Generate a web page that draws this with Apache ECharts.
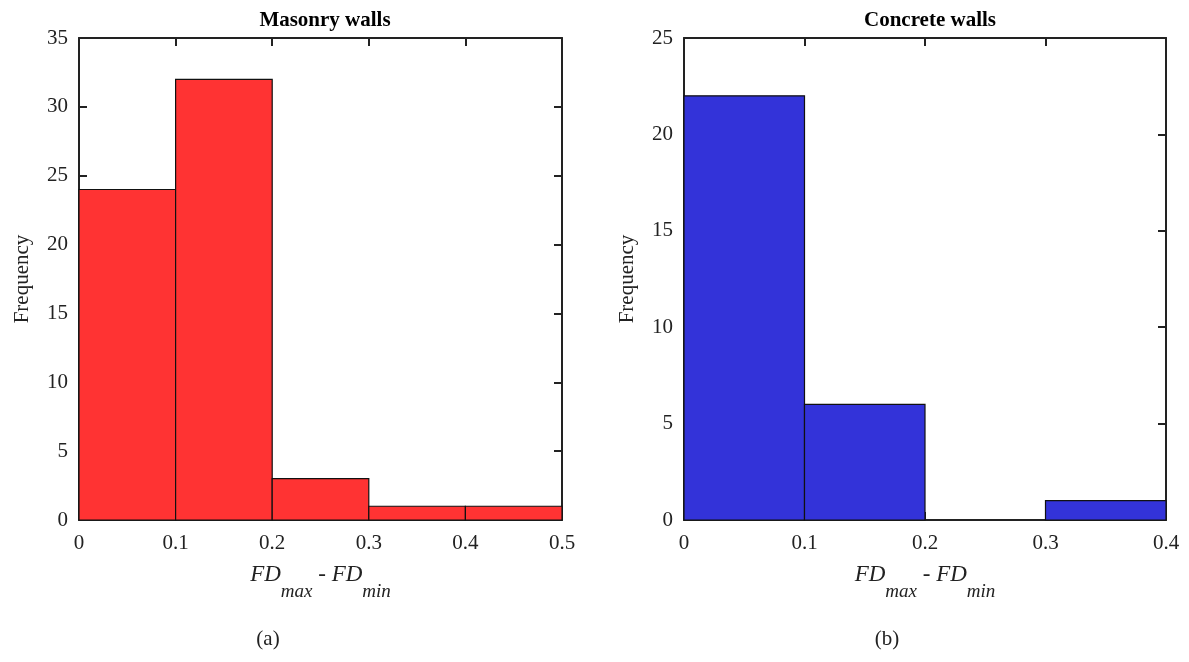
<!DOCTYPE html>
<html>
<head>
<meta charset="utf-8">
<script src="https://cdn.jsdelivr.net/npm/echarts@6/dist/echarts.min.js"></script>
<style>
  html, body { margin: 0; padding: 0; background: #fff; }
  #chart { width: 1189px; height: 662px; }
</style>
</head>
<body>
<div id="chart"></div>
<script>
// Histogram bin edges and counts for each wall type
const masonryBinEdges = [0, 0.1, 0.2, 0.3, 0.4, 0.5];
const masonryCounts = [24, 32, 3, 1, 1];
const concreteBinEdges = [0, 0.1, 0.2, 0.3, 0.4];
const concreteCounts = [22, 6, 0, 1];

const panelTitles = ['Masonry walls', 'Concrete walls'];
const panelTags = ['(a)', '(b)'];
const yAxisName = 'Frequency';

const FONT = '"Liberation Serif", "DejaVu Serif", serif';
const INK = '#222';

function binData(edges, counts) {
  return counts.map((c, i) => [edges[i], edges[i + 1], c]);
}

function renderBin(params, api) {
  const x0 = api.value(0), x1 = api.value(1), c = api.value(2);
  if (c <= 0) return null;
  const p0 = api.coord([x0, c]);
  const p1 = api.coord([x1, 0]);
  return {
    type: 'rect',
    shape: { x: p0[0], y: p0[1], width: p1[0] - p0[0], height: p1[1] - p0[1] },
    style: { fill: api.visual('color'), stroke: '#111', lineWidth: 1.2 }
  };
}

const xNameRich = {
  it: { fontFamily: FONT, fontStyle: 'italic', fontSize: 23, color: INK, lineHeight: 38, verticalAlign: 'top' },
  sub: { fontFamily: FONT, fontStyle: 'italic', fontSize: 19, color: INK, lineHeight: 38, verticalAlign: 'bottom' }
};
const xName = '{it|FD}{sub|max}{it| - FD}{sub|min}';

const grids = [
  { left: 79, right: 627, top: 38, bottom: 142 },
  { left: 684, right: 23, top: 38, bottom: 142 }
];
const xMax = [0.5, 0.4];
const yMax = [35, 25];

const xAxes = [], yAxes = [];
[0, 1].forEach(g => {
  const lineStyle = { color: INK, width: 2 };
  const tick = { show: true, inside: true, length: 8, lineStyle: { color: INK, width: 2 } };
  // bottom axis with labels
  xAxes.push({
    type: 'value', gridIndex: g, min: 0, max: xMax[g], interval: 0.1,
    position: 'bottom',
    axisLine: { show: true, onZero: false, lineStyle },
    axisTick: tick,
    axisLabel: { fontFamily: FONT, fontSize: 21, color: INK, margin: 13,
      formatter: v => (v === 0 ? '0' : String(+v.toFixed(1))) },
    splitLine: { show: false },
    name: xName, nameLocation: 'middle', nameGap: 43,
    nameTextStyle: { rich: xNameRich }
  });
  // top frame edge
  xAxes.push({
    type: 'value', gridIndex: g, min: 0, max: xMax[g], interval: 0.1,
    position: 'top',
    axisLine: { show: true, onZero: false, lineStyle },
    axisTick: tick,
    axisLabel: { show: false }, splitLine: { show: false }
  });
  yAxes.push({
    type: 'value', gridIndex: g, min: 0, max: yMax[g], interval: 5,
    position: 'left',
    axisLine: { show: true, onZero: false, lineStyle },
    axisTick: tick,
    axisLabel: { fontFamily: FONT, fontSize: 21, color: INK, margin: 11 },
    splitLine: { show: false },
    name: yAxisName, nameLocation: 'middle', nameGap: 46,
    nameTextStyle: { fontFamily: FONT, fontSize: 21, color: INK }
  });
  // right frame edge
  yAxes.push({
    type: 'value', gridIndex: g, min: 0, max: yMax[g], interval: 5,
    position: 'right',
    axisLine: { show: true, onZero: false, lineStyle },
    axisTick: tick,
    axisLabel: { show: false }, splitLine: { show: false }
  });
});

const titleStyle = { fontFamily: FONT, fontWeight: 'bold', fontSize: 21, color: '#000' };
const tagStyle = { fontFamily: FONT, fontWeight: 'normal', fontSize: 21, color: INK };

const option = {
  animation: false,
  backgroundColor: '#fff',
  title: [
    { text: panelTitles[0], left: 320, top: 5, textAlign: 'center', textStyle: titleStyle },
    { text: panelTitles[1], left: 925, top: 5, textAlign: 'center', textStyle: titleStyle },
    { text: panelTags[0], left: 263, top: 624, textAlign: 'center', textStyle: tagStyle },
    { text: panelTags[1], left: 882, top: 624, textAlign: 'center', textStyle: tagStyle }
  ],
  grid: grids,
  xAxis: xAxes,
  yAxis: yAxes,
  series: [
    { type: 'custom', xAxisIndex: 0, yAxisIndex: 0, renderItem: renderBin,
      itemStyle: { color: '#FF3333' }, encode: { x: [0, 1], y: 2 },
      data: binData(masonryBinEdges, masonryCounts), z: 1 },
    { type: 'custom', xAxisIndex: 2, yAxisIndex: 2, renderItem: renderBin,
      itemStyle: { color: '#3333D9' }, encode: { x: [0, 1], y: 2 },
      data: binData(concreteBinEdges, concreteCounts), z: 1 }
  ]
};

const chart = echarts.init(document.getElementById('chart'), null, { renderer: 'canvas' });
chart.setOption(option);
</script>
</body>
</html>
